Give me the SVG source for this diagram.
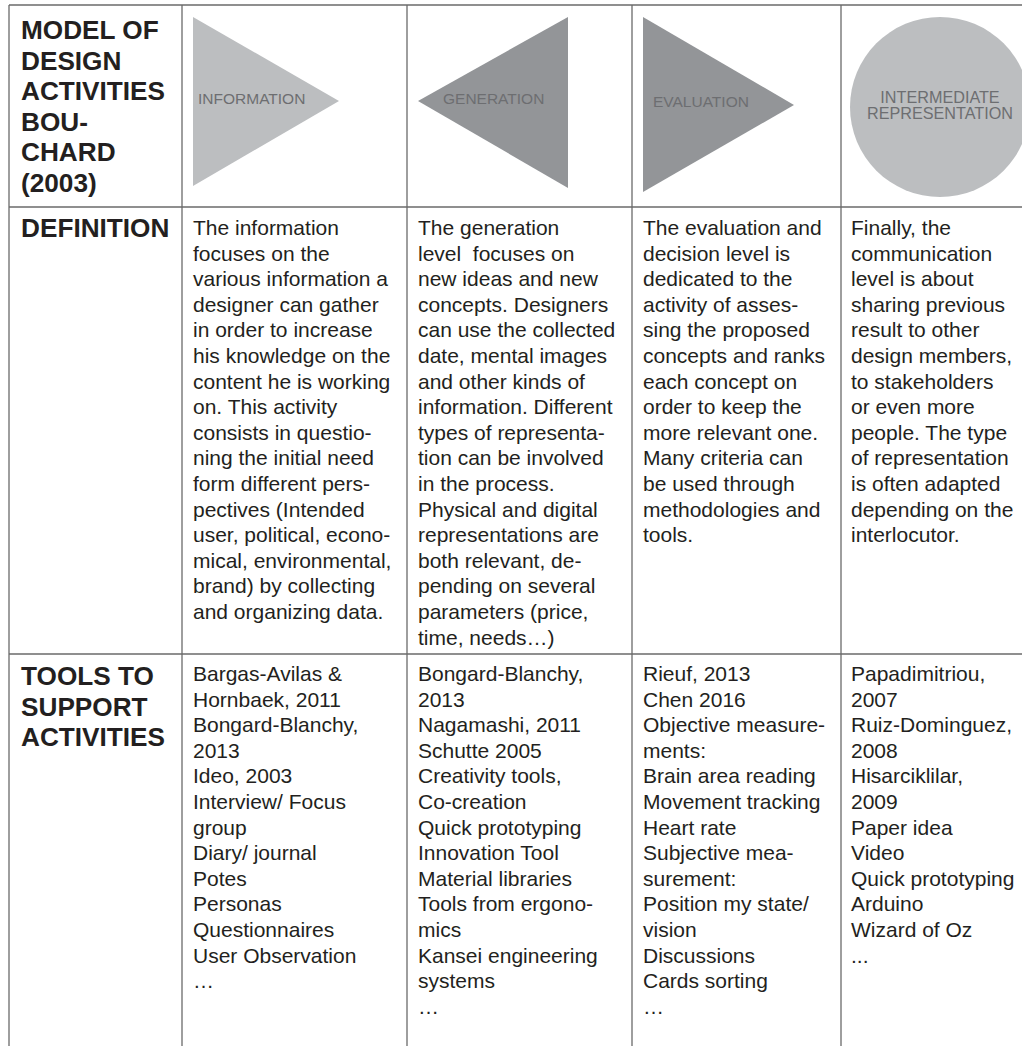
<svg xmlns="http://www.w3.org/2000/svg" width="1022" height="1046" viewBox="0 0 1022 1046">
<style>
.grid line{stroke:#6a6a6a;stroke-width:1.3}
.hd{font-family:"Liberation Sans",Arial,sans-serif;font-weight:bold;font-size:26.2px;fill:#231f20}
.bd{font-family:"Liberation Sans",Arial,sans-serif;font-size:21px;fill:#231f20}
.lbl{font-family:"Liberation Sans",Arial,sans-serif;font-size:15.5px;fill:#6d6e71}
.lbl2{font-family:"Liberation Sans",Arial,sans-serif;font-size:16.2px;fill:#6d6e71}
.light{fill:#bcbec0}
.dark{fill:#939598}
</style>
<rect width="1022" height="1046" fill="#fff"/>
<g id="grid" class="grid">
<line x1="9" y1="5" x2="1022" y2="5"/>
<line x1="9" y1="207" x2="1022" y2="207"/>
<line x1="9" y1="654" x2="1022" y2="654"/>
<line x1="9" y1="5" x2="9" y2="1046"/>
<line x1="182" y1="5" x2="182" y2="1046"/>
<line x1="407" y1="5" x2="407" y2="1046"/>
<line x1="632" y1="5" x2="632" y2="1046"/>
<line x1="841" y1="5" x2="841" y2="1046"/>
</g>
<g id="title-model">
<text class="hd" x="21" y="39"><tspan x="21">MODEL OF</tspan><tspan x="21" dy="30.6">DESIGN</tspan><tspan x="21" dy="30.6">ACTIVITIES</tspan><tspan x="21" dy="30.6">BOU-</tspan><tspan x="21" dy="30.6">CHARD</tspan><tspan x="21" dy="30.6">(2003)</tspan></text>
</g>
<g id="information">
<polygon class="light" points="193,17 193,186 339,101"/>
<text class="lbl" x="198" y="104">INFORMATION</text>
</g>
<g id="generation">
<polygon class="dark" points="418,101 568,17 568,188"/>
<text class="lbl" x="443" y="104">GENERATION</text>
</g>
<g id="evaluation">
<polygon class="dark" points="643,17 643,192 794,105"/>
<text class="lbl" x="653" y="107">EVALUATION</text>
</g>
<g id="intermediate">
<circle class="light" cx="940" cy="107" r="90"/>
<text class="lbl2" text-anchor="middle" x="940" y="103"><tspan x="940">INTERMEDIATE</tspan><tspan x="940" dy="16">REPRESENTATION</tspan></text>
</g>
<g id="title-definition">
<text class="hd" x="21" y="237">DEFINITION</text>
</g>
<g id="def-information">
<text class="bd" x="193" y="235"><tspan x="193">The information</tspan><tspan x="193" dy="25.6">focuses on the</tspan><tspan x="193" dy="25.6">various information a</tspan><tspan x="193" dy="25.6">designer can gather</tspan><tspan x="193" dy="25.6">in order to increase</tspan><tspan x="193" dy="25.6">his knowledge on the</tspan><tspan x="193" dy="25.6">content he is working</tspan><tspan x="193" dy="25.6">on. This activity</tspan><tspan x="193" dy="25.6">consists in questio-</tspan><tspan x="193" dy="25.6">ning the initial need</tspan><tspan x="193" dy="25.6">form different pers-</tspan><tspan x="193" dy="25.6">pectives (Intended</tspan><tspan x="193" dy="25.6">user, political, econo-</tspan><tspan x="193" dy="25.6">mical, environmental,</tspan><tspan x="193" dy="25.6">brand) by collecting</tspan><tspan x="193" dy="25.6">and organizing data.</tspan></text>
</g>
<g id="def-generation">
<text class="bd" x="418" y="235" xml:space="preserve"><tspan x="418">The generation</tspan><tspan x="418" dy="25.6">level  focuses on</tspan><tspan x="418" dy="25.6">new ideas and new</tspan><tspan x="418" dy="25.6">concepts. Designers</tspan><tspan x="418" dy="25.6">can use the collected</tspan><tspan x="418" dy="25.6">date, mental images</tspan><tspan x="418" dy="25.6">and other kinds of</tspan><tspan x="418" dy="25.6">information. Different</tspan><tspan x="418" dy="25.6">types of representa-</tspan><tspan x="418" dy="25.6">tion can be involved</tspan><tspan x="418" dy="25.6">in the process.</tspan><tspan x="418" dy="25.6">Physical and digital</tspan><tspan x="418" dy="25.6">representations are</tspan><tspan x="418" dy="25.6">both relevant, de-</tspan><tspan x="418" dy="25.6">pending on several</tspan><tspan x="418" dy="25.6">parameters (price,</tspan><tspan x="418" dy="25.6">time, needs…)</tspan></text>
</g>
<g id="def-evaluation">
<text class="bd" x="643" y="235"><tspan x="643">The evaluation and</tspan><tspan x="643" dy="25.6">decision level is</tspan><tspan x="643" dy="25.6">dedicated to the</tspan><tspan x="643" dy="25.6">activity of asses-</tspan><tspan x="643" dy="25.6">sing the proposed</tspan><tspan x="643" dy="25.6">concepts and ranks</tspan><tspan x="643" dy="25.6">each concept on</tspan><tspan x="643" dy="25.6">order to keep the</tspan><tspan x="643" dy="25.6">more relevant one.</tspan><tspan x="643" dy="25.6">Many criteria can</tspan><tspan x="643" dy="25.6">be used through</tspan><tspan x="643" dy="25.6">methodologies and</tspan><tspan x="643" dy="25.6">tools.</tspan></text>
</g>
<g id="def-intermediate">
<text class="bd" x="851" y="235"><tspan x="851">Finally, the</tspan><tspan x="851" dy="25.6">communication</tspan><tspan x="851" dy="25.6">level is about</tspan><tspan x="851" dy="25.6">sharing previous</tspan><tspan x="851" dy="25.6">result to other</tspan><tspan x="851" dy="25.6">design members,</tspan><tspan x="851" dy="25.6">to stakeholders</tspan><tspan x="851" dy="25.6">or even more</tspan><tspan x="851" dy="25.6">people. The type</tspan><tspan x="851" dy="25.6">of representation</tspan><tspan x="851" dy="25.6">is often adapted</tspan><tspan x="851" dy="25.6">depending on the</tspan><tspan x="851" dy="25.6">interlocutor.</tspan></text>
</g>
<g id="title-tools">
<text class="hd" x="21" y="685"><tspan x="21">TOOLS TO</tspan><tspan x="21" dy="30.6">SUPPORT</tspan><tspan x="21" dy="30.6">ACTIVITIES</tspan></text>
</g>
<g id="tools-information">
<text class="bd" x="193" y="681"><tspan x="193">Bargas-Avilas &amp;</tspan><tspan x="193" dy="25.6">Hornbaek, 2011</tspan><tspan x="193" dy="25.6">Bongard-Blanchy,</tspan><tspan x="193" dy="25.6">2013</tspan><tspan x="193" dy="25.6">Ideo, 2003</tspan><tspan x="193" dy="25.6">Interview/ Focus</tspan><tspan x="193" dy="25.6">group</tspan><tspan x="193" dy="25.6">Diary/ journal</tspan><tspan x="193" dy="25.6">Potes</tspan><tspan x="193" dy="25.6">Personas</tspan><tspan x="193" dy="25.6">Questionnaires</tspan><tspan x="193" dy="25.6">User Observation</tspan><tspan x="193" dy="25.6">…</tspan></text>
</g>
<g id="tools-generation">
<text class="bd" x="418" y="681"><tspan x="418">Bongard-Blanchy,</tspan><tspan x="418" dy="25.6">2013</tspan><tspan x="418" dy="25.6">Nagamashi, 2011</tspan><tspan x="418" dy="25.6">Schutte 2005</tspan><tspan x="418" dy="25.6">Creativity tools,</tspan><tspan x="418" dy="25.6">Co-creation</tspan><tspan x="418" dy="25.6">Quick prototyping</tspan><tspan x="418" dy="25.6">Innovation Tool</tspan><tspan x="418" dy="25.6">Material libraries</tspan><tspan x="418" dy="25.6">Tools from ergono-</tspan><tspan x="418" dy="25.6">mics</tspan><tspan x="418" dy="25.6">Kansei engineering</tspan><tspan x="418" dy="25.6">systems</tspan><tspan x="418" dy="25.6">…</tspan></text>
</g>
<g id="tools-evaluation">
<text class="bd" x="643" y="681"><tspan x="643">Rieuf, 2013</tspan><tspan x="643" dy="25.6">Chen 2016</tspan><tspan x="643" dy="25.6">Objective measure-</tspan><tspan x="643" dy="25.6">ments:</tspan><tspan x="643" dy="25.6">Brain area reading</tspan><tspan x="643" dy="25.6">Movement tracking</tspan><tspan x="643" dy="25.6">Heart rate</tspan><tspan x="643" dy="25.6">Subjective mea-</tspan><tspan x="643" dy="25.6">surement:</tspan><tspan x="643" dy="25.6">Position my state/</tspan><tspan x="643" dy="25.6">vision</tspan><tspan x="643" dy="25.6">Discussions</tspan><tspan x="643" dy="25.6">Cards sorting</tspan><tspan x="643" dy="25.6">…</tspan></text>
</g>
<g id="tools-intermediate">
<text class="bd" x="851" y="681"><tspan x="851">Papadimitriou,</tspan><tspan x="851" dy="25.6">2007</tspan><tspan x="851" dy="25.6">Ruiz-Dominguez,</tspan><tspan x="851" dy="25.6">2008</tspan><tspan x="851" dy="25.6">Hisarciklilar,</tspan><tspan x="851" dy="25.6">2009</tspan><tspan x="851" dy="25.6">Paper idea</tspan><tspan x="851" dy="25.6">Video</tspan><tspan x="851" dy="25.6">Quick prototyping</tspan><tspan x="851" dy="25.6">Arduino</tspan><tspan x="851" dy="25.6">Wizard of Oz</tspan><tspan x="851" dy="25.6">...</tspan></text>
</g>
</svg>
